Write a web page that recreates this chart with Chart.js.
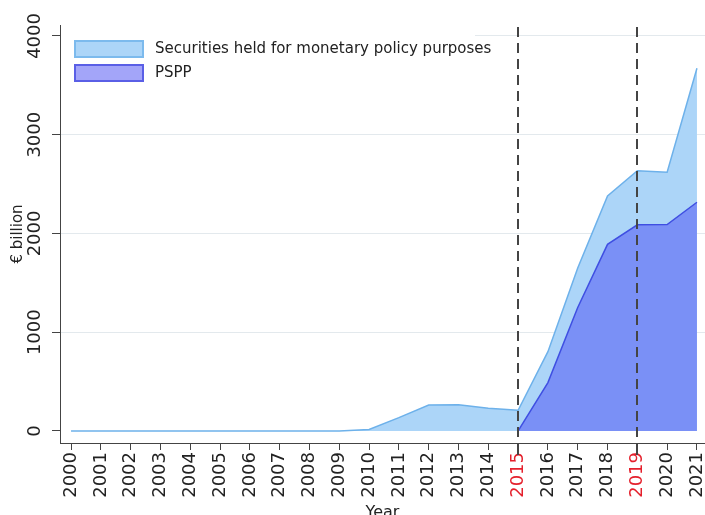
<!DOCTYPE html>
<html>
<head>
<meta charset="utf-8">
<script src="https://cdn.jsdelivr.net/npm/chart.js@4"></script>
<style>
  html, body { margin: 0; padding: 0; background: #fff; overflow: hidden; }
  #wrap { width: 705px; height: 524px; position: relative; }
</style>
</head>
<body>
<div id="wrap"><canvas id="chart"></canvas></div>
<script>
// Datos (miles de millones de euros)
const years = [2000, 2001, 2002, 2003, 2004, 2005, 2006, 2007, 2008, 2009, 2010,
               2011, 2012, 2013, 2014, 2015, 2016, 2017, 2018, 2019, 2020, 2021];
const securities = [0, 0, 0, 0, 0, 0, 0, 0, 0, 0, 15,
                    135, 263, 265, 230, 210, 803, 1650, 2380, 2636, 2620, 3673];
const pspp = [null, null, null, null, null, null, null, null, null, null, null,
              null, null, null, null, 0, 490, 1250, 1890, 2088, 2090, 2316];
const markerYears = [2015, 2019];
const yTicks = [0, 1000, 2000, 3000, 4000];

const FONT = 'DejaVu Sans';

function toPoints(values) {
    return years.map((y, i) => ({ x: y, y: values[i] }));
}

// Leyenda y líneas verticales discontinuas
const decor = {
    id: 'decor',
    beforeDatasetsDraw(chart) {
        const ctx = chart.ctx;
        const area = chart.chartArea;
        ctx.save();
        // fondo blanco de la leyenda (tapa la rejilla de 4000)
        ctx.fillStyle = '#fff';
        ctx.fillRect(area.left + 1, area.top + 3, 475 - area.left - 1, 64);
        const x0 = 74, top = 40, w = 70, h = 18, step = 24;
        chart.data.datasets.forEach((ds, i) => {
            const y = top + i * step;
            ctx.fillStyle = ds.backgroundColor;
            ctx.fillRect(x0, y, w, h);
            ctx.strokeStyle = ds.legendBorder;
            ctx.lineWidth = 2;
            ctx.strokeRect(x0 + 1, y + 1, w - 2, h - 2);
            ctx.fillStyle = '#222';
            ctx.font = '15px "' + FONT + '"';
            ctx.textBaseline = 'middle';
            ctx.textAlign = 'left';
            ctx.fillText(ds.label, 155, y + h / 2);
        });
        ctx.restore();
    },
    afterDatasetsDraw(chart) {
        const ctx = chart.ctx;
        const area = chart.chartArea;
        const xs = chart.scales.x;
        ctx.save();
        ctx.strokeStyle = '#444';
        ctx.lineWidth = 2;
        markerYears.forEach(yr => {
            const px = Math.round(xs.getPixelForValue(yr));
            ctx.setLineDash([10, 6]);
            ctx.beginPath();
            ctx.moveTo(px, area.top + 2);
            ctx.lineTo(px, area.bottom);
            ctx.stroke();
            ctx.setLineDash([]);
            ctx.beginPath();
            ctx.moveTo(px, area.bottom);
            ctx.lineTo(px, area.bottom + 12);
            ctx.stroke();
        });
        ctx.restore();
    }
};

new Chart(document.getElementById('chart'), {
    type: 'line',
    data: {
        datasets: [{
            label: 'Securities held for monetary policy purposes',
            data: toPoints(securities),
            fill: 'origin',
            backgroundColor: '#acd5f8',
            borderColor: '#6db1ea',
            legendBorder: '#7cbaed',
            borderWidth: 1.5,
            pointRadius: 0,
            tension: 0,
            order: 2
        }, {
            label: 'PSPP',
            data: toPoints(pspp),
            fill: 'origin',
            backgroundColor: 'rgba(71, 75, 243, 0.5)',
            borderColor: '#3f4fe2',
            legendBorder: '#5a5fe6',
            borderWidth: 1.5,
            pointRadius: 0,
            tension: 0,
            order: 1
        }]
    },
    options: {
        responsive: true,
        maintainAspectRatio: false,
        animation: false,
        layout: { padding: { top: 25, right: 0, left: 0, bottom: 0 } },
        plugins: {
            legend: { display: false },
            tooltip: { enabled: false }
        },
        scales: {
            x: {
                type: 'linear',
                min: 1999.63,
                max: 2021.27,
                afterBuildTicks: scale => {
                    scale.ticks = years.map(v => ({ value: v }));
                },
                afterFit: scale => {
                    scale.height = 81;
                    scale.paddingLeft = 0;
                    scale.paddingRight = 0;
                },
                ticks: {
                    autoSkip: false,
                    minRotation: 90,
                    maxRotation: 90,
                    padding: 2,
                    color: ctx => markerYears.includes(ctx.tick.value) ? '#e4202c' : '#222',
                    font: { family: FONT, size: 18 },
                    callback: v => String(v)
                },
                grid: { drawOnChartArea: false, tickLength: 7, tickColor: '#444' },
                border: { color: '#444', width: 1 },
                title: {
                    display: true,
                    text: 'Year',
                    color: '#222',
                    font: { family: FONT, size: 16 },
                    padding: { top: 0, bottom: 2 }
                }
            },
            y: {
                min: -122,
                max: 4111,
                afterBuildTicks: scale => {
                    scale.ticks = yTicks.map(v => ({ value: v }));
                },
                afterFit: scale => {
                    scale.width = 60;
                    scale.paddingTop = 0;
                    scale.paddingBottom = 0;
                },
                ticks: {
                    minRotation: 90,
                    maxRotation: 90,
                    crossAlign: 'center',
                    padding: -6,
                    color: '#222',
                    font: { family: FONT, size: 18 },
                    callback: v => String(v)
                },
                grid: {
                    color: ctx => ctx.tick && ctx.tick.value === 0 ? 'rgba(0,0,0,0)' : '#e3e9ed',
                    tickLength: 8,
                    tickColor: '#444'
                },
                border: { color: '#444', width: 1 },
                title: {
                    display: true,
                    text: '€ billion',
                    color: '#222',
                    font: { family: FONT, size: 15 },
                    padding: { top: 9, bottom: 0 }
                }
            }
        }
    },
    plugins: [decor]
});
</script>
</body>
</html>
